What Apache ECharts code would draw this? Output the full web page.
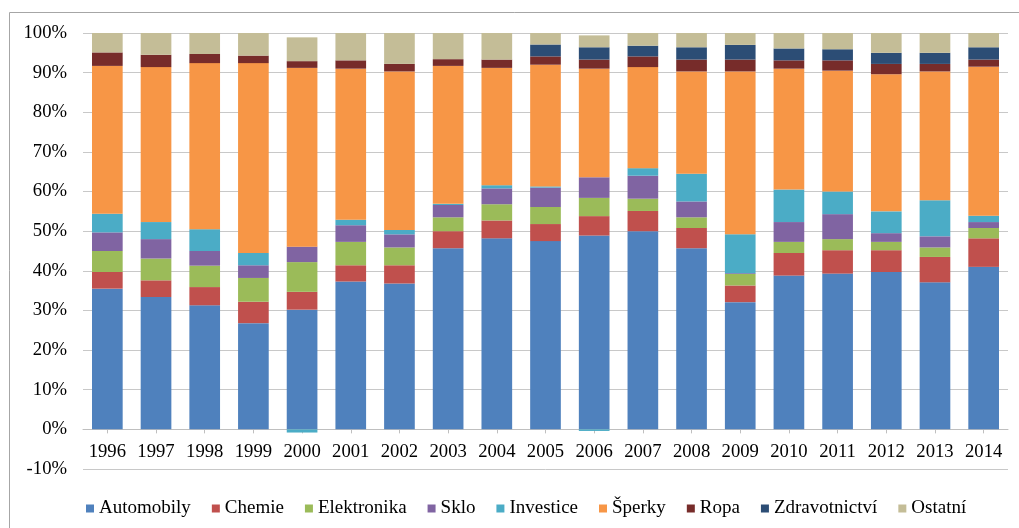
<!DOCTYPE html>
<html>
<head>
<meta charset="utf-8">
<script src="https://cdn.jsdelivr.net/npm/echarts@6/dist/echarts.min.js"></script>
<style>
  html, body { margin: 0; padding: 0; background: #fff; }
  #chart { width: 1019px; height: 528px; }
</style>
</head>
<body>
<div id="chart"></div>
<script>
// Share of each sector per year (%)
const years = ['1996','1997','1998','1999','2000','2001','2002','2003','2004','2005',
               '2006','2007','2008','2009','2010','2011','2012','2013','2014'];

const automobily    = [35.5, 33.4, 31.3, 26.8, 30.2, 37.3, 36.8, 45.7, 48.2, 47.5, 48.9, 50.0, 45.7, 32.1, 38.8, 39.3, 39.7, 37.1, 41.0];
const chemie        = [4.2, 4.2, 4.6, 5.4, 4.5, 4.1, 4.6, 4.3, 4.5, 4.3, 4.9, 5.1, 5.1, 4.2, 5.7, 5.9, 5.5, 6.4, 7.2];
const elektronika   = [5.3, 5.5, 5.4, 6.0, 7.5, 5.9, 4.5, 3.5, 4.1, 4.3, 4.6, 3.1, 2.7, 2.9, 2.8, 2.8, 2.1, 2.4, 2.6];
const sklo          = [4.7, 4.9, 3.7, 3.2, 3.9, 4.2, 3.3, 3.1, 4.0, 4.9, 5.2, 5.8, 4.0, 0.2, 5.0, 6.3, 2.2, 2.8, 1.5];
const investice     = [4.7, 4.3, 5.5, 3.1, -0.8, 1.4, 1.1, 0.3, 0.8, 0.3, -0.4, 1.9, 7.0, 9.8, 8.2, 5.7, 5.5, 9.1, 1.6];
const sperky        = [37.3, 39.1, 41.9, 47.9, 45.1, 38.1, 40.0, 34.8, 29.6, 30.7, 27.4, 25.5, 25.8, 41.1, 30.5, 30.5, 34.6, 32.5, 37.6];
const ropa          = [3.4, 3.1, 2.3, 1.9, 1.7, 2.1, 1.9, 1.7, 2.1, 2.1, 2.3, 2.7, 3.0, 3.0, 2.1, 2.6, 2.6, 1.9, 1.8];
const zdravotnictvi = [0, 0, 0, 0, 0, 0, 0, 0, 0, 3.0, 3.1, 2.7, 3.1, 3.7, 3.0, 2.8, 2.8, 2.8, 3.1];
const ostatni       = [4.9, 5.5, 5.3, 5.7, 6.0, 6.9, 7.8, 6.6, 6.7, 3.0, 3.0, 3.2, 3.6, 3.0, 3.9, 4.1, 5.0, 5.0, 3.6];

const seriesDefs = [
  { name: 'Automobily',    data: automobily,    color: '#4F81BD' },
  { name: 'Chemie',        data: chemie,        color: '#C0504D' },
  { name: 'Elektronika',   data: elektronika,   color: '#9BBB59' },
  { name: 'Sklo',          data: sklo,          color: '#8064A2' },
  { name: 'Investice',     data: investice,     color: '#4BACC6' },
  { name: 'Šperky',        data: sperky,        color: '#F79646' },
  { name: 'Ropa',          data: ropa,          color: '#772C2A' },
  { name: 'Zdravotnictví', data: zdravotnictvi, color: '#2C4D75' },
  { name: 'Ostatní',       data: ostatni,       color: '#C4BD97' }
];

const FONT = 'Liberation Serif';

// Plot spans -10 % .. 100 %; the category axis sits on the 0 % line
const Y_MIN = -10, Y_MAX = 100;
const GRID_TOP = 33, GRID_BOTTOM = 59, CHART_H = 528;
const plotH = CHART_H - GRID_TOP - GRID_BOTTOM;
const zeroShift = plotH * (0 - Y_MIN) / (Y_MAX - Y_MIN);

const chart = echarts.init(document.getElementById('chart'), null, { renderer: 'canvas' });

chart.setOption({
  animation: false,
  backgroundColor: '#fff',
  textStyle: { fontFamily: FONT },
  graphic: [{
    type: 'rect',
    shape: { x: 9.5, y: 12.5, width: 1030, height: 540 },
    style: { fill: 'none', stroke: '#a6a6a6', lineWidth: 1 },
    silent: true
  }],
  legend: {
    left: 81,
    top: 494,
    itemWidth: 8,
    itemHeight: 8,
    itemGap: 21,
    icon: 'rect',
    textStyle: { fontFamily: FONT, fontSize: 19, color: '#000' },
    data: seriesDefs.map(s => s.name)
  },
  grid: { left: 83, right: 11, top: GRID_TOP, bottom: GRID_BOTTOM, containLabel: false },
  xAxis: {
    type: 'category',
    data: years,
    offset: -zeroShift,
    axisLine: { onZero: false, lineStyle: { color: '#bfbfbf', width: 1 } },
    axisTick: { show: true, alignWithLabel: true, length: 4, lineStyle: { color: '#bfbfbf' } },
    axisLabel: { fontFamily: FONT, fontSize: 18.67, color: '#000', margin: 13 }
  },
  yAxis: {
    type: 'value',
    min: Y_MIN,
    max: Y_MAX,
    interval: 10,
    axisLine: { show: false },
    axisTick: { show: false },
    axisLabel: { formatter: '{value}%', fontFamily: FONT, fontSize: 18.67, color: '#000', margin: 16 },
    splitLine: { lineStyle: { color: '#c8c8c8', width: 1 } }
  },
  series: seriesDefs.map(s => ({
    name: s.name,
    type: 'bar',
    stack: 'total',
    barCategoryGap: '37%',
    data: s.data,
    itemStyle: { color: s.color }
  }))
});
</script>
</body>
</html>
